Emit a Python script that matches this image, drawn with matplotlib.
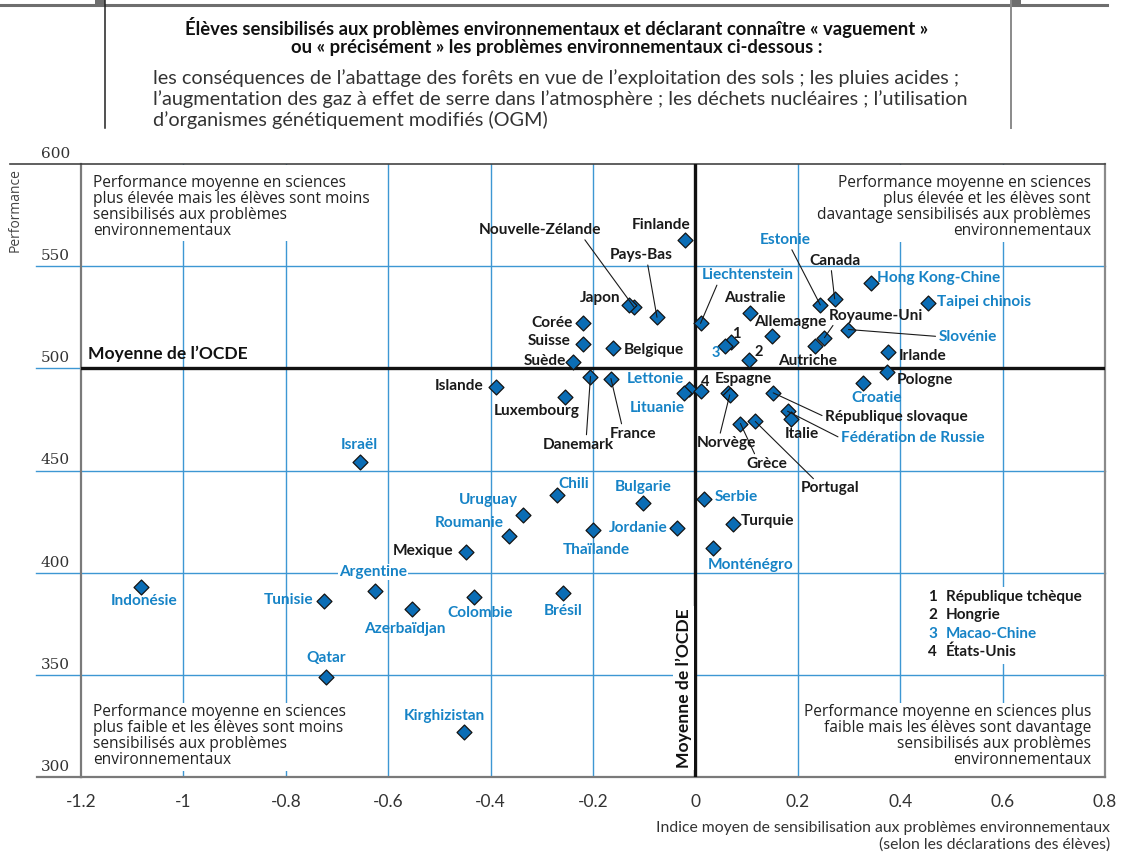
import matplotlib
matplotlib.use("Agg")
import matplotlib.pyplot as plt
from matplotlib.lines import Line2D
from matplotlib.patches import Rectangle

# ---------------------------------------------------------------- data
countries = [
    "Finlande", "Nouvelle-Zélande", "Japon", "Pays-Bas", "Liechtenstein",
    "Corée", "Suisse", "Belgique", "Suède", "Islande", "Luxembourg",
    "Danemark", "France", "Lettonie", "Lituanie", "États-Unis",
    "République tchèque", "Macao-Chine", "Hongrie", "Australie", "Allemagne",
    "Estonie", "Canada", "Hong Kong-Chine", "Taipei chinois", "Royaume-Uni",
    "Autriche", "Slovénie", "Irlande", "Pologne", "Croatie", "Espagne",
    "Norvège", "République slovaque", "Fédération de Russie", "Italie",
    "Grèce", "Portugal", "Israël", "Chili", "Bulgarie", "Serbie", "Uruguay",
    "Roumanie", "Jordanie", "Thaïlande", "Turquie", "Monténégro", "Mexique",
    "Argentine", "Indonésie", "Tunisie", "Azerbaïdjan", "Colombie", "Brésil",
    "Qatar", "Kirghizistan",
]
# Mean index of environmental awareness
awareness = [
    -0.02, -0.12, -0.13, -0.075, 0.01,
    -0.22, -0.22, -0.16, -0.24, -0.39, -0.255,
    -0.205, -0.165, -0.013, -0.023, 0.01,
    0.07, 0.057, 0.104, 0.106, 0.15,
    0.244, 0.272, 0.343, 0.455, 0.252,
    0.234, 0.299, 0.377, 0.375, 0.327, 0.063,
    0.067, 0.152, 0.18, 0.187,
    0.088, 0.117, -0.656, -0.27, -0.102, 0.016, -0.336,
    -0.364, -0.036, -0.20, 0.073, 0.035, -0.449,
    -0.626, -1.082, -0.726, -0.554, -0.433, -0.258,
    -0.721, -0.452,
]
# Mean performance in science
science = [
    563, 530, 531, 525, 522,
    522, 512, 510, 503, 491, 486,
    496, 495, 490, 488, 489,
    513, 511, 504, 527, 516,
    531, 534, 542, 532, 515,
    511, 519, 508, 498, 493, 488,
    487, 488, 479, 475,
    473, 474, 454, 438, 434, 436, 428,
    418, 422, 421, 424, 412, 410,
    391, 393, 386, 382, 388, 390,
    349, 322,
]
partner_countries = {
    "Liechtenstein", "Lettonie", "Lituanie", "Macao-Chine", "Estonie",
    "Hong Kong-Chine", "Taipei chinois", "Slovénie", "Croatie",
    "Fédération de Russie", "Israël", "Chili", "Bulgarie", "Serbie",
    "Uruguay", "Roumanie", "Jordanie", "Thaïlande", "Monténégro",
    "Argentine", "Indonésie", "Tunisie", "Azerbaïdjan", "Colombie", "Brésil",
    "Qatar", "Kirghizistan",
}
# Countries shown by a number, explained in the key
numbered = {"République tchèque": "1", "Hongrie": "2", "Macao-Chine": "3",
            "États-Unis": "4"}

x_ticks = [-1.2, -1.0, -0.8, -0.6, -0.4, -0.2, 0.0, 0.2, 0.4, 0.6, 0.8]
x_tick_labels = ["-1.2", "-1", "-0.8", "-0.6", "-0.4", "-0.2", "0", "0.2",
                 "0.4", "0.6", "0.8"]
y_ticks = [300, 350, 400, 450, 500, 550, 600]
oecd_mean_x = 0.0
oecd_mean_y = 500

# ---------------------------------------------------------------- layout
W, H = 1126, 852
DPI = 100
PT = 72.0 / DPI          # points per pixel

# label offset from the marker (pixels, right / down) and optional leader
# anchor on the label box (relpos)
label_layout = {
    "Finlande": (-24, -15, None),
    "Nouvelle-Zélande": (-94, -77, (0.85, 0.0)),
    "Japon": (-29, -7, None),
    "Pays-Bas": (-16, -62, (0.6, 0.0)),
    "Liechtenstein": (47, -48, (0.18, 0.0)),
    "Corée": (-31, 0, None),
    "Suisse": (-34, -3, None),
    "Belgique": (40, 2, None),
    "Suède": (-28, -1, None),
    "Islande": (-37, -1, None),
    "Luxembourg": (-28, 14, None),
    "Danemark": (-12, 68, (0.61, 1.0)),
    "France": (22, 55, (0.27, 1.0)),
    "Lettonie": (-33, -10, None),
    "Lituanie": (-26, 15, None),
    "États-Unis": (5, -9, None),
    "République tchèque": (5, -8, None),
    "Macao-Chine": (-9, 7, None),
    "Hongrie": (10, -8, None),
    "Australie": (5, -15, None),
    "Allemagne": (18, -14, None),
    "Estonie": (-35, -65, (0.6, 0.0)),
    "Canada": (0, -38, (0.43, 0.0)),
    "Hong Kong-Chine": (68, -5, None),
    "Taipei chinois": (56, -1, None),
    "Royaume-Uni": (52, -22, (0.06, 0.0)),
    "Autriche": (-8, 15, None),
    "Slovénie": (119, 7, (0.0, 0.5)),
    "Irlande": (34, 4, None),
    "Pologne": (38, 8, None),
    "Croatie": (14, 15, None),
    "Espagne": (16, -14, None),
    "Norvège": (-3, 48, (0.38, 1.0)),
    "République slovaque": (123, 24, (0.0, 0.5)),
    "Fédération de Russie": (125, 27, (0.0, 0.5)),
    "Italie": (11, 15, None),
    "Grèce": (26, 40, (0.24, 1.0)),
    "Portugal": (75, 67, (0.26, 1.0)),
    "Israël": (0, -17, None),
    "Chili": (17, -11, None),
    "Bulgarie": (0, -16, None),
    "Serbie": (33, -2, None),
    "Uruguay": (-35, -15, None),
    "Roumanie": (-40, -13, None),
    "Jordanie": (-39, 0, None),
    "Thaïlande": (3, 20, None),
    "Turquie": (35, -3, None),
    "Monténégro": (37, 17, None),
    "Mexique": (-42, -1, None),
    "Argentine": (-2, -19, None),
    "Indonésie": (3, 14, None),
    "Tunisie": (-35, -1, None),
    "Azerbaïdjan": (-7, 20, None),
    "Colombie": (6, 16, None),
    "Brésil": (0, 18, None),
    "Qatar": (0, -19, None),
    "Kirghizistan": (-20, -16, None),
}

BLUE_MARK = "#0b6db5"
BLUE_TEXT = "#1683c6"
GRID = "#3d97d3"
LABEL_FONT = ["Lato", "DejaVu Sans"]
BODY_FONT = ["Open Sans", "DejaVu Sans"]


def fx(px):
    return px / W


def fy(py):
    return 1 - py / H


fig = plt.figure(figsize=(W / DPI, H / DPI), dpi=DPI, facecolor="white")

# ---------------------------------------------------------------- header
fig.add_artist(Line2D([0, fx(1107)], [fy(5), fy(5)], color="#6e6e6e", lw=2.2))
for left in (95, 1011):
    fig.add_artist(Rectangle((fx(left), fy(7)), 10 / W, 7 / H,
                             transform=fig.transFigure, color="#6e6e6e", lw=0))
fig.add_artist(Line2D([fx(105), fx(105)], [fy(0), fy(128)], color="#222222", lw=1.1))
fig.add_artist(Line2D([fx(1011), fx(1011)], [fy(0), fy(128)], color="#8a8a8a", lw=1.4))

fig.text(fx(557), fy(27),
         "Élèves sensibilisés aux problèmes environnementaux et déclarant connaître « vaguement »",
         ha="center", va="center", fontsize=13.3, fontweight="bold",
         family=LABEL_FONT, color="#111111")
fig.text(fx(557), fy(48),
         "ou « précisément » les problèmes environnementaux ci-dessous :",
         ha="center", va="center", fontsize=13.3, fontweight="bold",
         family=LABEL_FONT, color="#111111")
subtitle = [
    "les conséquences de l’abattage des forêts en vue de l’exploitation des sols ; les pluies acides ;",
    "l’augmentation des gaz à effet de serre dans l’atmosphère ; les déchets nucléaires ; l’utilisation",
    "d’organismes génétiquement modifiés (OGM)",
]
for i, line in enumerate(subtitle):
    fig.text(fx(153), fy(78 + 21 * i), line, ha="left", va="center",
             fontsize=14.35, family=LABEL_FONT, color="#333333")

# ---------------------------------------------------------------- axes
ax = fig.add_axes([fx(81), fy(777), (1105 - 81) / W, (777 - 164) / H])
ax.set_xlim(-1.2, 0.8)
ax.set_ylim(300, 600)
ax.set_facecolor("white")

for side, col, lw in (("left", "#7a7a7a", 1.6), ("right", "#8a8a8a", 1.6),
                      ("top", "#444444", 1.2), ("bottom", "#7a7a7a", 1.6)):
    ax.spines[side].set_color(col)
    ax.spines[side].set_linewidth(lw)

# frame lines running past the plot area on the left
fig.add_artist(Line2D([fx(10), fx(81)], [fy(164), fy(164)], color="#444444", lw=1.2))
fig.add_artist(Line2D([fx(37), fx(81)], [fy(777), fy(777)], color="#7a7a7a", lw=1.6))

ax.set_xticks(x_ticks)
ax.set_xticklabels(x_tick_labels, family=LABEL_FONT, fontsize=12.5, color="#333333")
ax.tick_params(axis="x", length=0, pad=12)
ax.set_yticks([])

ext = -45 / 1024
for v in y_ticks[1:-1]:
    if v == oecd_mean_y:
        ax.axhline(v, xmin=ext, xmax=0, color=GRID, lw=1.0, zorder=1, clip_on=False)
    else:
        ax.axhline(v, xmin=ext, xmax=1, color=GRID, lw=1.0, zorder=1, clip_on=False)
for v in x_ticks[1:-1]:
    if v != oecd_mean_x:
        ax.axvline(v, color=GRID, lw=1.0, zorder=1)

ax.axhline(oecd_mean_y, color="#111111", lw=2.4, zorder=3)
ax.axvline(oecd_mean_x, color="#111111", lw=2.4, zorder=3)

for v in y_ticks:
    ax.annotate(str(v), xy=(0, v), xycoords=("axes fraction", "data"),
                xytext=(-11 * PT, 3 * PT), textcoords="offset points",
                ha="right", va="bottom", fontsize=11, family=["DejaVu Serif"],
                color="#333333", annotation_clip=False)

fig.text(fx(15), fy(210), "Performance", rotation=90, ha="center", va="center",
         fontsize=10, family=BODY_FONT, color="#444444")
fig.text(fx(1110), fy(828),
         "Indice moyen de sensibilisation aux problèmes environnementaux",
         ha="right", va="center", fontsize=11.3, family=LABEL_FONT, color="#333333")
fig.text(fx(1110), fy(845), "(selon les déclarations des élèves)",
         ha="right", va="center", fontsize=11.3, family=LABEL_FONT, color="#333333")

# white panels that hold the quadrant notes and the key
for (l, t, r, b) in ((82, 165, 385, 241), (805, 165, 1103, 242),
                     (82, 703, 385, 771), (805, 703, 1103, 776),
                     (915, 587, 1100, 664)):
    ax.add_patch(Rectangle((fx(l), fy(b)), (r - l) / W, (b - t) / H,
                           transform=fig.transFigure, facecolor="white",
                           edgecolor="none", zorder=2, clip_on=False))

quadrant_notes = [
    (93, 183, "left", ["Performance moyenne en sciences",
                       "plus élevée mais les élèves sont moins",
                       "sensibilisés aux problèmes",
                       "environnementaux"]),
    (1091, 183, "right", ["Performance moyenne en sciences",
                          "plus élevée et les élèves sont",
                          "davantage sensibilisés aux problèmes",
                          "environnementaux"]),
    (93, 712, "left", ["Performance moyenne en sciences",
                       "plus faible et les élèves sont moins",
                       "sensibilisés aux problèmes",
                       "environnementaux"]),
    (1091, 712, "right", ["Performance moyenne en sciences plus",
                          "faible mais les élèves sont davantage",
                          "sensibilisés aux problèmes",
                          "environnementaux"]),
]
for px, py, align, lines in quadrant_notes:
    for i, line in enumerate(lines):
        fig.text(fx(px), fy(py + 16 * i), line, ha=align, va="center",
                 fontsize=11.2, family=BODY_FONT, color="#222222", zorder=4)

# OECD averages
ax.annotate("Moyenne de l’OCDE", xy=(-1.2, oecd_mean_y), xytext=(7 * PT, 14 * PT),
            textcoords="offset points", ha="left", va="center", fontsize=12.6,
            fontweight="bold", family=LABEL_FONT, color="#111111", zorder=6)
ax.annotate("Moyenne de l’OCDE", xy=(oecd_mean_x, 300), xytext=(-12 * PT, 89 * PT),
            textcoords="offset points", ha="center", va="center", rotation=90,
            fontsize=12.6, fontweight="bold", family=LABEL_FONT, color="#111111",
            bbox=dict(facecolor="white", edgecolor="none", pad=1.5), zorder=6)

# ---------------------------------------------------------------- points
ax.scatter(awareness, science, marker="D", s=7.6 ** 2, c=BLUE_MARK,
           edgecolors="#141414", linewidths=0.9, zorder=5)

for name, xv, yv in zip(countries, awareness, science):
    dx, dy, rel = label_layout[name]
    text = numbered.get(name, name)
    colour = BLUE_TEXT if name in partner_countries else "#1a1a1a"
    kw = {}
    if rel is not None:
        kw["arrowprops"] = dict(arrowstyle="-", color="#1a1a1a", lw=0.8,
                                shrinkA=0, shrinkB=0, relpos=rel)
    if name == "Argentine":
        kw["bbox"] = dict(facecolor="white", edgecolor="none", pad=0.8)
    ax.annotate(text, xy=(xv, yv), xytext=(dx * PT, -dy * PT),
                textcoords="offset points", ha="center", va="center",
                fontsize=11.1 if name not in numbered else 10.5,
                fontweight="bold", family=LABEL_FONT, color=colour,
                zorder=6, **kw)

# key for the numbered countries
for i, (name, num) in enumerate(numbered.items()):
    colour = BLUE_TEXT if name in partner_countries else "#1a1a1a"
    py = 597 + 18.3 * i
    fig.text(fx(928), fy(py), num, ha="left", va="center", fontsize=11,
             fontweight="bold", family=LABEL_FONT, color=colour, zorder=6)
    fig.text(fx(946), fy(py), name, ha="left", va="center", fontsize=11,
             fontweight="bold", family=LABEL_FONT, color=colour, zorder=6)

fig.savefig("out.png", dpi=DPI, facecolor="white")
